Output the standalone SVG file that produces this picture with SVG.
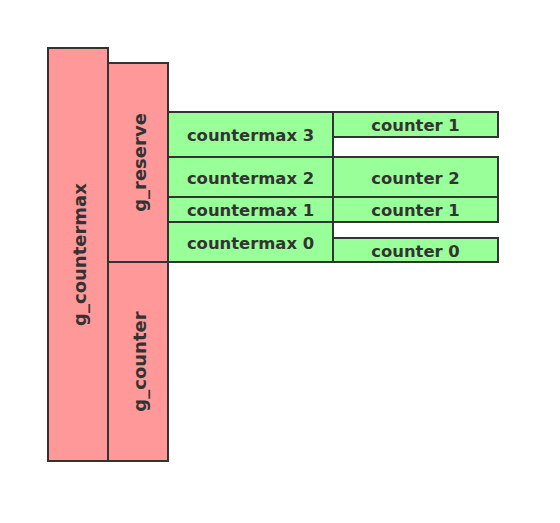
<svg xmlns="http://www.w3.org/2000/svg" width="560" height="523" viewBox="0 0 560 523">
<style>
.r{fill:#FF9999;stroke:#333;stroke-width:2}
.g{fill:#99FF99;stroke:#333;stroke-width:2}
text{font-family:"DejaVu Sans",sans-serif;font-weight:bold;font-size:16.4px;fill:#333;text-anchor:middle;dominant-baseline:central}
text.v{font-size:18px}
</style>
<rect width="560" height="523" fill="#fff"/>
<g id="g_countermax"><rect class="r" x="48" y="48" width="60" height="413"/><text class="v" x="79" y="254.5" transform="rotate(-90 79 254.5)">g_countermax</text></g>
<g id="g_reserve"><rect class="r" x="108" y="63" width="60" height="199"/><text class="v" x="139" y="162.5" transform="rotate(-90 139 162.5)">g_reserve</text></g>
<g id="g_counter"><rect class="r" x="108" y="262" width="60" height="199"/><text class="v" x="139" y="361.5" transform="rotate(-90 139 361.5)">g_counter</text></g>
<g id="countermax3"><rect class="g" x="168" y="112" width="165" height="45"/><text x="250.5" y="135.5">countermax 3</text></g>
<g id="counter1a"><rect class="g" x="333" y="112" width="165" height="25"/><text x="415.5" y="125.5">counter 1</text></g>
<g id="countermax2"><rect class="g" x="168" y="157" width="165" height="40"/><text x="250.5" y="178">countermax 2</text></g>
<g id="counter2"><rect class="g" x="333" y="157" width="165" height="40"/><text x="415.5" y="178">counter 2</text></g>
<g id="countermax1"><rect class="g" x="168" y="197" width="165" height="25"/><text x="250.5" y="210.5">countermax 1</text></g>
<g id="counter1b"><rect class="g" x="333" y="197" width="165" height="25"/><text x="415.5" y="210.5">counter 1</text></g>
<g id="countermax0"><rect class="g" x="168" y="222" width="165" height="40"/><text x="250.5" y="243">countermax 0</text></g>
<g id="counter0"><rect class="g" x="333" y="238" width="165" height="24"/><text x="415.5" y="251">counter 0</text></g>
<g id="connectors"></g>
</svg>
